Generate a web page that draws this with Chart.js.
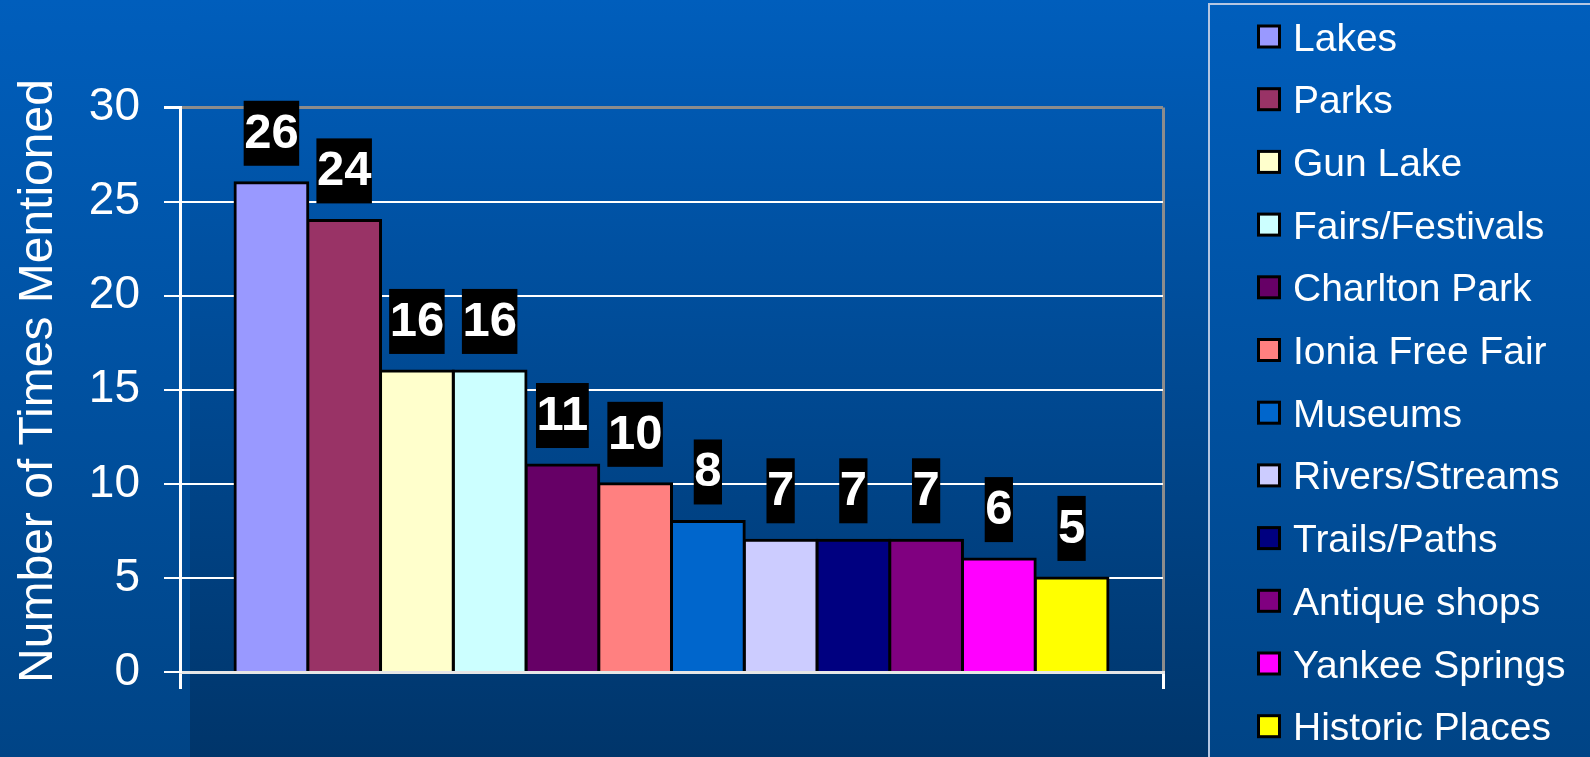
<!DOCTYPE html>
<html>
<head>
<meta charset="utf-8">
<script src="https://cdn.jsdelivr.net/npm/chart.js@4"></script>
<style>
html, body { margin: 0; padding: 0; background: #004a96; }
#wrap { width: 1590px; height: 757px; }
</style>
</head>
<body>
<div id="wrap"><canvas id="chart" width="1590" height="757"></canvas></div>
<script>
// Attractions and how often they were mentioned
const categories = ['Lakes', 'Parks', 'Gun Lake', 'Fairs/Festivals', 'Charlton Park', 'Ionia Free Fair',
    'Museums', 'Rivers/Streams', 'Trails/Paths', 'Antique shops', 'Yankee Springs', 'Historic Places'];
const mentions = [26, 24, 16, 16, 11, 10, 8, 7, 7, 7, 6, 5];
const barColors = ['#9999FF', '#993366', '#FFFFCC', '#CCFFFF', '#660066', '#FF8080',
    '#0066CC', '#CCCCFF', '#000080', '#800080', '#FF00FF', '#FFFF00'];
const yMin = 0;
const yMax = 30;
const yStep = 5;
const yTitle = 'Number of Times Mentioned';

const FONT = '"Liberation Sans", Arial, sans-serif';

// Slide background and the darker plot panel
const backgroundPlugin = {
    id: 'background',
    beforeDraw(chart) {
        const ctx = chart.ctx;
        const w = chart.width, h = chart.height;
        ctx.save();
        let g = ctx.createLinearGradient(0, 0, 0, h);
        g.addColorStop(0, '#005EBC');
        g.addColorStop(1, '#004486');
        ctx.fillStyle = g;
        ctx.fillRect(0, 0, w, h);
        // panel fades in from the top so only its lower left edge shows
        g = ctx.createLinearGradient(0, 0, 0, h);
        g.addColorStop(0, '#005EBC');
        g.addColorStop(1, '#00356A');
        ctx.fillStyle = g;
        ctx.fillRect(190, 0, 1209 - 190, h);
        ctx.restore();
    }
};

// Rotated axis title, drawn by hand so it sits where the original does
const axisTitle = {
    id: 'axisTitle',
    afterDraw(chart) {
        const ctx = chart.ctx;
        ctx.save();
        ctx.translate(52, 381);
        ctx.rotate(-Math.PI / 2);
        ctx.font = '48px ' + FONT;
        ctx.fillStyle = '#fff';
        ctx.textAlign = 'center';
        ctx.textBaseline = 'alphabetic';
        ctx.fillText(yTitle, 0, 0);
        ctx.restore();
    }
};

// Black boxes with the value above each bar
const valueLabels = {
    id: 'valueLabels',
    afterDatasetsDraw(chart) {
        const ctx = chart.ctx;
        ctx.save();
        ctx.font = 'bold 49px ' + FONT;
        ctx.textAlign = 'center';
        ctx.textBaseline = 'alphabetic';
        chart.data.datasets.forEach((ds, i) => {
            const bar = chart.getDatasetMeta(i).data[0];
            const text = String(ds.data[0]);
            const bw = ctx.measureText(text).width + 1;
            const bh = 65;
            const bottom = bar.y - 17;
            ctx.fillStyle = '#000';
            ctx.fillRect(bar.x - bw / 2, bottom - bh, bw, bh);
            ctx.fillStyle = '#fff';
            ctx.fillText(text, bar.x, bottom - 18);
        });
        ctx.restore();
    }
};

// Legend panel on the right
const sideLegend = {
    id: 'sideLegend',
    afterDraw(chart) {
        const ctx = chart.ctx;
        ctx.save();
        ctx.strokeStyle = '#B4C6E2';
        ctx.lineWidth = 2;
        ctx.beginPath();
        ctx.moveTo(1209, chart.height);
        ctx.lineTo(1209, 4);
        ctx.lineTo(chart.width, 4);
        ctx.stroke();
        ctx.font = '39px ' + FONT;
        ctx.textAlign = 'left';
        ctx.textBaseline = 'alphabetic';
        chart.data.datasets.forEach((ds, i) => {
            const cy = 36.5 + i * 62.7;
            ctx.fillStyle = '#000';
            ctx.fillRect(1257, cy - 12, 24, 24);
            ctx.fillStyle = ds.backgroundColor;
            ctx.fillRect(1260, cy - 9, 18, 18);
            ctx.fillStyle = '#fff';
            ctx.fillText(ds.label, 1293, cy + 14);
        });
        ctx.restore();
    }
};

const datasets = categories.map((name, i) => ({
    label: name,
    data: [mentions[i]],
    backgroundColor: barColors[i],
    borderColor: '#000',
    borderWidth: 3,
    borderSkipped: 'start',
    inflateAmount: 1.5,
    barPercentage: 1,
    categoryPercentage: 0.888
}));

const ctx = document.getElementById('chart').getContext('2d');
const chart = new Chart(ctx, {
    type: 'bar',
    data: { labels: [''], datasets: datasets },
    options: {
        responsive: false,
        animation: false,
        layout: { padding: { top: 107.5, right: 427, left: 0, bottom: 0 } },
        plugins: {
            legend: { display: false },
            tooltip: { enabled: false }
        },
        scales: {
            x: {
                offset: true,
                grid: {
                    offset: true,
                    lineWidth: 3,
                    color: c => c.index === 0 ? '#ffffff' : '#8C8C8C',
                    tickColor: '#ffffff',
                    tickLength: 17
                },
                border: { color: '#E6E6E6', width: 3 },
                ticks: { display: false },
                afterFit(scale) { scale.height = 85; }
            },
            y: {
                min: yMin,
                max: yMax,
                ticks: {
                    stepSize: yStep,
                    color: '#fff',
                    padding: 24,
                    font: { family: FONT, size: 46 }
                },
                grid: {
                    color: c => c.tick && c.tick.value === yMax ? '#8C8C8C' : '#ffffff',
                    lineWidth: c => c.tick && c.tick.value === yMax ? 3 : 2,
                    tickColor: '#ffffff',
                    tickLength: 16
                },
                border: { color: '#ffffff', width: 3 },
                afterFit(scale) { scale.width = 180; }
            }
        }
    },
    plugins: [backgroundPlugin, valueLabels, sideLegend, axisTitle]
});
</script>
</body>
</html>
